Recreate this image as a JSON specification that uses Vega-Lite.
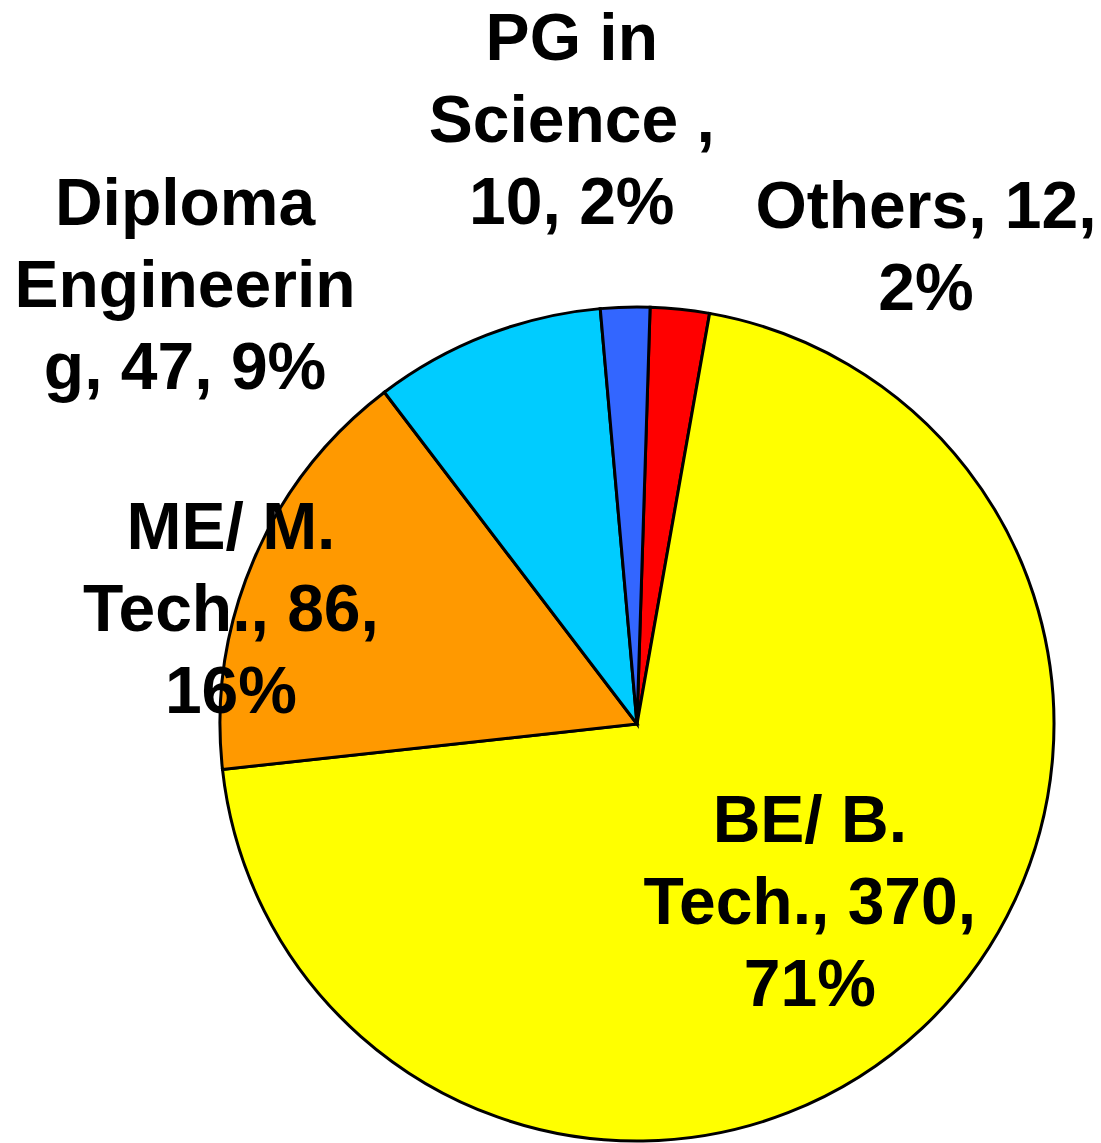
{
  "$schema": "https://vega.github.io/schema/vega-lite/v6.json",
  "width": 834,
  "height": 834,
  "autosize": {"type": "none"},
  "padding": {"left": 220, "top": 307, "right": 47, "bottom": 2},
  "background": "white",
  "view": {"stroke": null},
  "data": {
    "values": [
      {"cat": "Others", "value": 12, "order": 1, "label": "Others, 12,\n2%"},
      {"cat": "BE/ B. Tech.", "value": 370, "order": 2, "label": "BE/ B.\nTech., 370,\n71%"},
      {"cat": "ME/ M. Tech.", "value": 86, "order": 3, "label": "ME/ M.\nTech., 86,\n16%"},
      {"cat": "Diploma Engineering", "value": 47, "order": 4, "label": "Diploma\nEngineerin\ng, 47, 9%"},
      {"cat": "PG in Science", "value": 10, "order": 5, "label": "PG in\nScience ,\n10, 2%"}
    ]
  },
  "encoding": {
    "theta": {"field": "value", "type": "quantitative", "stack": true, "scale": {"range": [0.0314, 6.3146]}},
    "order": {"field": "order", "type": "quantitative"}
  },
  "layer": [
    {
      "mark": {"type": "arc", "stroke": "black", "strokeWidth": 3},
      "encoding": {
        "color": {
          "field": "cat", "type": "nominal", "legend": null,
          "scale": {
            "domain": ["Others", "BE/ B. Tech.", "ME/ M. Tech.", "Diploma Engineering", "PG in Science"],
            "range": ["#FF0000", "#FFFF00", "#FF9900", "#00CCFF", "#3366FF"]
          }
        }
      }
    },
    {
      "mark": {"type": "text", "radius": 247, "dx": 4, "dy": -82, "font": "Liberation Sans", "fontWeight": "bold", "fontSize": 66, "lineHeight": 82, "lineBreak": "\n", "align": "center", "baseline": "middle", "color": "black"},
      "encoding": {"text": {"condition": {"test": "datum.cat === 'BE/ B. Tech.'", "field": "label"}, "value": ""}}
    },
    {
      "mark": {"type": "text", "radius": 419, "dx": -21, "dy": -30, "font": "Liberation Sans", "fontWeight": "bold", "fontSize": 66, "lineHeight": 82, "lineBreak": "\n", "align": "center", "baseline": "middle", "color": "black"},
      "encoding": {"text": {"condition": {"test": "datum.cat === 'ME/ M. Tech.'", "field": "label"}, "value": ""}}
    },
    {
      "mark": {"type": "text", "radius": 573, "dx": -245, "dy": 15, "font": "Liberation Sans", "fontWeight": "bold", "fontSize": 66, "lineHeight": 82, "lineBreak": "\n", "align": "center", "baseline": "middle", "color": "black"},
      "encoding": {"text": {"condition": {"test": "datum.cat === 'Diploma Engineering'", "field": "label"}, "value": ""}}
    },
    {
      "mark": {"type": "text", "radius": 606, "dx": -48, "dy": -78, "font": "Liberation Sans", "fontWeight": "bold", "fontSize": 66, "lineHeight": 82, "lineBreak": "\n", "align": "center", "baseline": "middle", "color": "black"},
      "encoding": {"text": {"condition": {"test": "datum.cat === 'PG in Science'", "field": "label"}, "value": ""}}
    },
    {
      "mark": {"type": "text", "radius": 505, "dx": 237, "dy": -14, "font": "Liberation Sans", "fontWeight": "bold", "fontSize": 66, "lineHeight": 82, "lineBreak": "\n", "align": "center", "baseline": "middle", "color": "black"},
      "encoding": {"text": {"condition": {"test": "datum.cat === 'Others'", "field": "label"}, "value": ""}}
    }
  ]
}
